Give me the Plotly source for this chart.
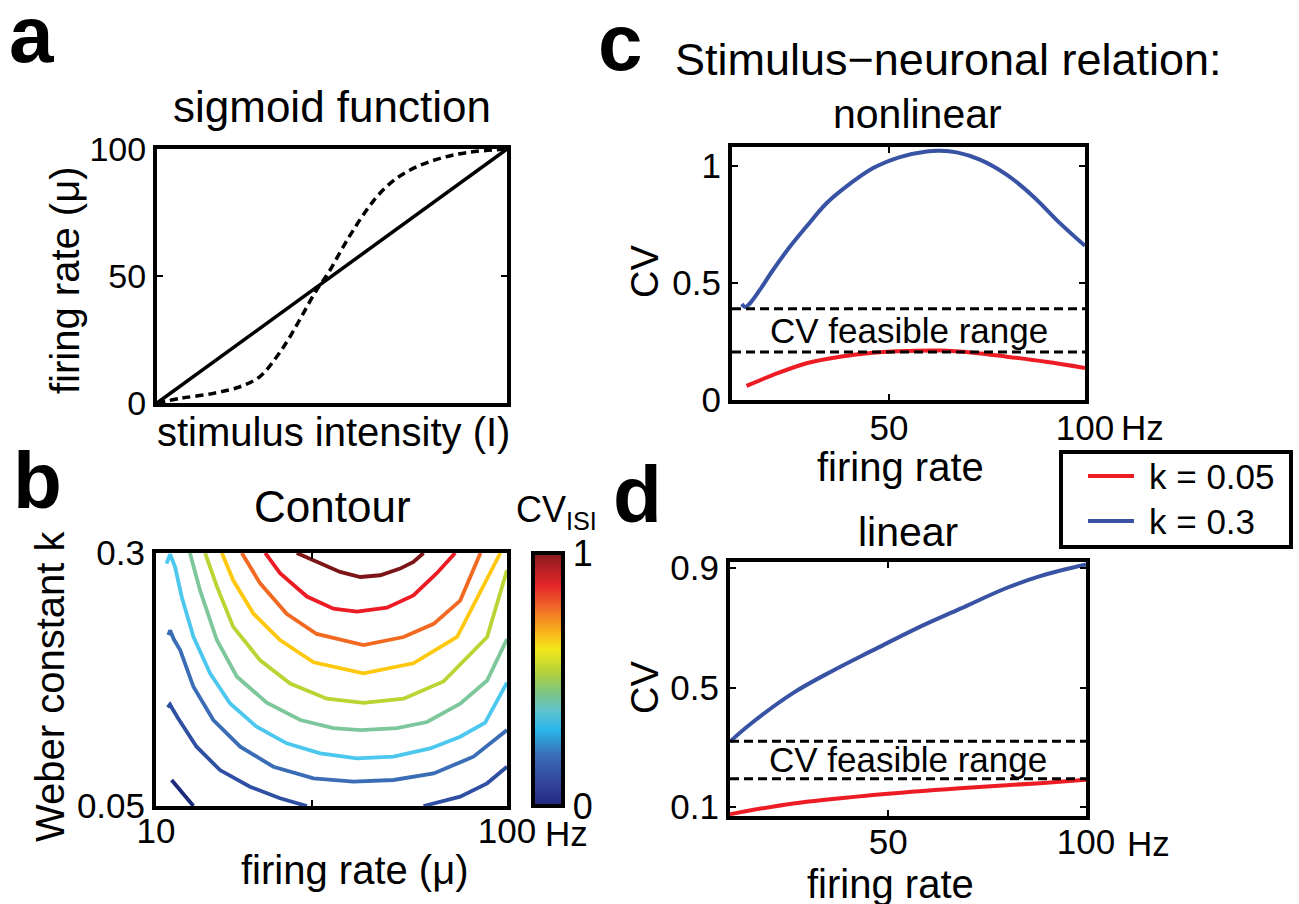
import plotly.graph_objects as go

W, H = 1299, 904
FONT = "Liberation Sans, Arial, Helvetica, sans-serif"
BLUE = "#3953a4"
RED = "#ed1c24"

# ---------------- panel a: stimulus -> firing rate mapping ----------------
stim_linear = [0, 100]
rate_linear = [0, 100]
stim_sigmoid = [0, 6.6, 16.1, 23.7, 29.4, 34.2, 38.0, 41.8, 45.6, 48.9, 53.2,
                56.1, 59.9, 63.7, 68.5, 74.2, 80.9, 88.5, 100]
rate_sigmoid = [0, 1.8, 3.8, 6.4, 10.4, 18.2, 26.1, 35.3, 44.5, 51.1, 61.5,
                68.1, 76.0, 82.6, 88.5, 93.0, 96.3, 98.6, 100]
a_yticks = [0, 50, 100]

# ---------------- panel b: CV_ISI contour lines (firing rate, Weber k) ----------------
contour_levels = [0.1, 0.2, 0.3, 0.4, 0.5, 0.6, 0.7, 0.8, 0.9, 1.0]
contour_colors = ["#1b2a7b", "#2f4fa2", "#3a6db5", "#4cc7ee", "#7ec79c",
                  "#b9d433", "#fdc80d", "#f26a22", "#ed1c24", "#7d1517"]

lvl01_rate = [14.0, 16.6, 19.6]
lvl01_k = [0.0757, 0.0641, 0.05]
lvl02_rate = [13.0, 13.6, 14.4, 15.7, 20.4, 26.4, 34.1, 41.8, 48.7, None, 78.6, 88.0, 94.9, 100]
lvl02_k = [0.1474, 0.1503, 0.1448, 0.1365, 0.1086, 0.0855, 0.0691, 0.0576, 0.05, None, 0.05, 0.0592, 0.0724, 0.0888]
lvl03_rate = [13.2, 13.6, 14.6, 16.2, 19.6, 24.7, 31.6, 40.1, 50.4, 60.6, 70.9, 81.2, 91.4, 100]
lvl03_k = [0.2188, 0.2237, 0.2145, 0.204, 0.1678, 0.1349, 0.1086, 0.0888, 0.0773, 0.074, 0.0757, 0.0822, 0.0987, 0.125]
lvl04_rate = [12.7, 13.6, 14.9, 16.6, 19.6, 23.9, 29.0, 35.8, 43.5, 52.1, 61.5, 70.9, 80.3, 88.0, 94.4, 100]
lvl04_k = [0.2895, 0.2987, 0.286, 0.2566, 0.2171, 0.1809, 0.1513, 0.1283, 0.1119, 0.102, 0.097, 0.0987, 0.1069, 0.1184, 0.1323, 0.172]
lvl05_rate = [18.7, 21.3, 25.6, 30.7, 38.4, 47.0, 55.5, 62.4, 71.8, 79.5, 88.0, 94.9, 100]
lvl05_k = [0.3, 0.263, 0.214, 0.178, 0.152, 0.135, 0.127, 0.125, 0.127, 0.133, 0.151, 0.174, 0.215]
lvl06_rate = [22.6, 25.6, 29.8, 36.7, 44.4, 53.8, 63.2, 73.5, 83.7, 94.9, 100]
lvl06_k = [0.3, 0.267, 0.227, 0.194, 0.171, 0.156, 0.152, 0.156, 0.173, 0.217, 0.283]
lvl07_rate = [26.9, 29.8, 35.0, 41.8, 50.4, 63.2, 76.0, 87.2, 98.3]
lvl07_k = [0.3, 0.273, 0.24, 0.214, 0.192, 0.181, 0.191, 0.217, 0.3]
lvl08_rate = [32.0, 36.7, 43.5, 51.2, 63.2, 73.5, 81.2, 88.0, 93.2]
lvl08_k = [0.3, 0.27, 0.24, 0.22, 0.209, 0.217, 0.23, 0.253, 0.3]
lvl09_rate = [38.0, 41.8, 48.7, 55.5, 61.5, 69.2, 76.0, 82.0, 86.7]
lvl09_k = [0.3, 0.28, 0.257, 0.245, 0.242, 0.246, 0.258, 0.28, 0.3]
lvl10_rate = [46.1, 52.1, 57.2, 62.4, 67.5, 72.6, 76.0, 78.6]
lvl10_k = [0.3, 0.2895, 0.2813, 0.2763, 0.278, 0.2846, 0.2912, 0.3]

contour_rates = [lvl01_rate, lvl02_rate, lvl03_rate, lvl04_rate, lvl05_rate,
                 lvl06_rate, lvl07_rate, lvl08_rate, lvl09_rate, lvl10_rate]
contour_ks = [lvl01_k, lvl02_k, lvl03_k, lvl04_k, lvl05_k,
              lvl06_k, lvl07_k, lvl08_k, lvl09_k, lvl10_k]

# colour map used by the CV_ISI colour bar
cv_colorscale = [
    [0.00, "#23287d"], [0.10, "#33479d"], [0.20, "#3a6cb4"], [0.30, "#29b6ea"],
    [0.375, "#5fc3cf"], [0.45, "#7ec57f"], [0.53, "#b5d23a"], [0.62, "#f4e81c"],
    [0.68, "#f9b81b"], [0.76, "#f27c27"], [0.87, "#e6262b"], [1.00, "#861a1d"],
]

# ---------------- panel c: nonlinear stimulus-neuron relation ----------------
nl_rate_k03 = [12.5, 13.4, 14.6, 17.1, 20.5, 24.8, 29.0, 34.1, 39.2, 46.0, 52.8,
               59.6, 63.0, 67.3, 73.2, 80.0, 86.8, 93.6, 100]
nl_cv_k03 = [0.41, 0.397, 0.413, 0.47, 0.556, 0.655, 0.741, 0.84, 0.912, 0.99, 1.037,
             1.061, 1.064, 1.057, 1.026, 0.962, 0.869, 0.755, 0.658]
nl_rate_k005 = [13.7, 20.5, 29.0, 37.5, 46.0, 54.5, 63.0, 71.5, 80.0, 90.0, 100]
nl_cv_k005 = [0.06, 0.107, 0.157, 0.185, 0.202, 0.209, 0.211, 0.202, 0.185, 0.163, 0.137]
nl_feasible = [0.205, 0.39]

# ---------------- panel d: linear stimulus-neuron relation ----------------
lin_rate_k03 = [10, 15.1, 26.0, 36.1, 46.2, 57.2, 68.1, 79.9, 88.4, 100]
lin_cv_k03 = [0.319, 0.377, 0.482, 0.557, 0.625, 0.698, 0.763, 0.833, 0.873, 0.912]
lin_rate_k005 = [10, 26.0, 46.2, 68.1, 88.4, 100]
lin_cv_k005 = [0.076, 0.112, 0.14, 0.163, 0.18, 0.191]
lin_feasible = [0.195, 0.32]

legend_labels = ["k = 0.05", "k = 0.3"]
legend_colors = [RED, BLUE]

rate_range = [10, 100]


def dom_x(left, right):
    return [left / W, right / W]


def dom_y(top, bottom):
    return [1 - bottom / H, 1 - top / H]


fig = go.Figure()

# panel a
fig.add_trace(go.Scatter(x=stim_linear, y=rate_linear, mode="lines",
                         line=dict(color="black", width=3.5),
                         xaxis="x", yaxis="y", showlegend=False, hoverinfo="skip"))
fig.add_trace(go.Scatter(x=stim_sigmoid, y=rate_sigmoid, mode="lines",
                         line=dict(color="black", width=3.5, dash="8px,5px", shape="spline"),
                         xaxis="x", yaxis="y", showlegend=False, hoverinfo="skip"))

# panel b contour lines
for lvl, col, xs, ys in zip(contour_levels, contour_colors, contour_rates, contour_ks):
    fig.add_trace(go.Scatter(x=xs, y=ys, mode="lines", connectgaps=False,
                             line=dict(color=col, width=3.8),
                             xaxis="x2", yaxis="y2", showlegend=False,
                             name=f"CV = {lvl:.1f}"))

# colour bar for panel b
fig.add_trace(go.Scatter(
    x=[None, None], y=[None, None], mode="markers", xaxis="x2", yaxis="y2",
    showlegend=False, hoverinfo="skip",
    marker=dict(color=[0, 1], cmin=0, cmax=1, colorscale=cv_colorscale, showscale=True,
                colorbar=dict(x=533 / W, xanchor="left", y=1 - 553 / H, yanchor="top",
                              len=253, lenmode="pixels", thickness=30, thicknessmode="pixels",
                              xpad=0, ypad=0, outlinewidth=4, outlinecolor="black",
                              tickvals=[0, 1], ticktext=["0", "1"], ticks="",
                              tickfont=dict(family=FONT, size=36, color="black"))),
))

# panel c
fig.add_trace(go.Scatter(x=nl_rate_k005, y=nl_cv_k005, mode="lines", name=legend_labels[0],
                         line=dict(color=RED, width=4, shape="spline"),
                         xaxis="x3", yaxis="y3", showlegend=False))
fig.add_trace(go.Scatter(x=nl_rate_k03, y=nl_cv_k03, mode="lines", name=legend_labels[1],
                         line=dict(color=BLUE, width=4, shape="spline"),
                         xaxis="x3", yaxis="y3", showlegend=False))
for v in nl_feasible:
    fig.add_trace(go.Scatter(x=rate_range, y=[v, v], mode="lines",
                             line=dict(color="black", width=3, dash="9px,5px"),
                             xaxis="x3", yaxis="y3", showlegend=False, hoverinfo="skip"))

# panel d
fig.add_trace(go.Scatter(x=lin_rate_k005, y=lin_cv_k005, mode="lines", name=legend_labels[0],
                         line=dict(color=RED, width=4, shape="spline"),
                         xaxis="x4", yaxis="y4", showlegend=False))
fig.add_trace(go.Scatter(x=lin_rate_k03, y=lin_cv_k03, mode="lines", name=legend_labels[1],
                         line=dict(color=BLUE, width=4, shape="spline"),
                         xaxis="x4", yaxis="y4", showlegend=False))
for v in lin_feasible:
    fig.add_trace(go.Scatter(x=rate_range, y=[v, v], mode="lines",
                             line=dict(color="black", width=3, dash="9px,5px"),
                             xaxis="x4", yaxis="y4", showlegend=False, hoverinfo="skip"))

axis_base = dict(showline=True, linecolor="black", linewidth=4, mirror="allticks",
                 ticks="inside", ticklen=6, tickwidth=2, tickcolor="black",
                 showgrid=False, zeroline=False, fixedrange=True, automargin=False,
                 tickfont=dict(family=FONT, size=35, color="black"))
minor_tick = dict(ticks="inside", ticklen=6, tickwidth=2, tickcolor="black", showgrid=False)

fig.update_layout(
    template="none",
    width=W, height=H,
    margin=dict(l=0, r=0, t=0, b=0, pad=0, autoexpand=False),
    paper_bgcolor="white", plot_bgcolor="white",
    font=dict(family=FONT, color="black"),
    showlegend=False,
    xaxis=dict(axis_base, domain=dom_x(157, 507), range=[0, 100], ticks="",
               showticklabels=False, anchor="y"),
    yaxis=dict(axis_base, domain=dom_y(149, 403), range=[0, 100], tickvals=a_yticks,
               tickfont=dict(family=FONT, size=34, color="black"), anchor="x"),
    xaxis2=dict(axis_base, domain=dom_x(156, 507), range=rate_range,
                tickvals=[10, 100], ticktext=["10", "100"], ticklabelstandoff=-9,
                minor=dict(minor_tick, tickvals=[50]), anchor="y2"),
    yaxis2=dict(axis_base, domain=dom_y(553, 806), range=[0.05, 0.3],
                tickvals=[0.05, 0.3], ticktext=["0.05", "0.3"], anchor="x2"),
    xaxis3=dict(axis_base, domain=dom_x(732, 1085), range=rate_range, ticklabelstandoff=-6,
                tickvals=[50, 100], ticktext=["50", "100"], anchor="y3"),
    yaxis3=dict(axis_base, domain=dom_y(147, 400), range=[0, 1.08],
                tickvals=[0, 0.5, 1], ticktext=["0", "0.5", "1"], anchor="x3"),
    xaxis4=dict(axis_base, domain=dom_x(730, 1086), range=rate_range, ticklabelstandoff=-8,
                tickvals=[50, 100], ticktext=["50", "100"], anchor="y4"),
    yaxis4=dict(axis_base, domain=dom_y(562, 816), range=[0.07, 0.92],
                tickvals=[0.1, 0.5, 0.9], ticktext=["0.1", "0.5", "0.9"], anchor="x4"),
)

# legend box shared by panels c and d
fig.add_shape(type="rect", xref="paper", yref="paper",
              x0=1061 / W, x1=1291 / W, y0=1 - 547 / H, y1=1 - 452 / H,
              line=dict(color="black", width=4), fillcolor="white", layer="above")
for i, (txt, col) in enumerate(zip(legend_labels, legend_colors)):
    ypx = 476 + 45 * i
    fig.add_shape(type="line", xref="paper", yref="paper",
                  x0=1088 / W, x1=1134 / W, y0=1 - ypx / H, y1=1 - ypx / H,
                  line=dict(color=col, width=4), layer="above")
    fig.add_annotation(text=txt, x=1147 / W, y=1 - ypx / H, xref="paper", yref="paper",
                       xanchor="left", yanchor="middle", showarrow=False,
                       font=dict(family=FONT, size=35, color="black"))


def label(text, px, py, size, angle=0, bold=False):
    fig.add_annotation(
        text=f"<b>{text}</b>" if bold else text,
        x=px / W, y=1 - py / H, xref="paper", yref="paper",
        xanchor="center", yanchor="middle", showarrow=False, textangle=angle,
        font=dict(family=FONT, size=size, color="black"))


# panel letters
label("a", 32, 34, 80, bold=True)
label("b", 37, 480, 80, bold=True)
label("c", 620, 42, 80, bold=True)
label("d", 637, 494, 80, bold=True)

# panel a text
label("sigmoid function", 332, 106, 44)
label("firing rate (μ)", 65, 280, 40, angle=-90)
label("stimulus intensity (I)", 333, 432, 40)

# panel b text
label("Contour", 332, 507, 44)
label("Weber constant k", 50, 686, 40, angle=-90)
label("firing rate (μ)", 355, 870, 40)
label("Hz", 566, 833, 35)
label("CV<sub>ISI</sub>", 556, 512, 36)

# panel c text
label("Stimulus\u2212neuronal relation:", 948, 60, 45)
label("nonlinear", 917, 114, 41)
label("CV", 645, 272, 38, angle=-90)
label("Hz", 1142, 428, 35)
label("firing rate", 900, 467, 40)

# panel d text
label("linear", 908, 532, 41)
label("CV", 645, 688, 38, angle=-90)
label("Hz", 1148, 843, 35)
label("firing rate", 890, 884, 40)

# feasible-range captions
fig.add_annotation(text="CV feasible range", x=55, y=sum(nl_feasible) / 2, xref="x3", yref="y3",
                   showarrow=False, font=dict(family=FONT, size=35, color="black"))
fig.add_annotation(text="CV feasible range", x=55, y=sum(lin_feasible) / 2, xref="x4", yref="y4",
                   showarrow=False, font=dict(family=FONT, size=35, color="black"))

fig.write_html("out.html")
